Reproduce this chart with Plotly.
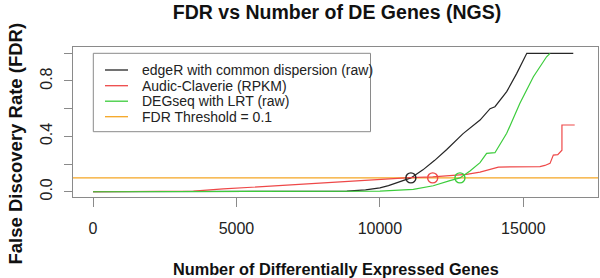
import plotly.graph_objects as go

# ---------------- data ----------------
edger_x = [0, 3000, 6000, 8000, 8850, 9500, 10000, 10300, 10600, 10850, 11080, 11500, 11900,
           12330, 12900, 13490, 13840, 14010, 14420, 14770, 15120, 16740]
edger_y = [0, 0, 0.001, 0.002, 0.005, 0.013, 0.028, 0.044, 0.065, 0.082, 0.1, 0.158, 0.225,
           0.305, 0.42, 0.518, 0.6, 0.614, 0.723, 0.855, 1.0, 1.0]

audic_x = [0, 2900, 3500, 4540, 5500, 6700, 8000, 9000, 10000, 11050, 11840, 12500, 13020,
           13490, 13800, 14130, 15580, 15750, 15930, 15990, 16045, 16200, 16277, 16345, 16345, 16790]
audic_y = [0, 0, 0.004, 0.02, 0.032, 0.046, 0.062, 0.077, 0.09, 0.102, 0.107, 0.115, 0.125,
           0.142, 0.16, 0.178, 0.182, 0.19, 0.205, 0.23, 0.265, 0.268, 0.285, 0.3, 0.482, 0.482]

degseq_x = [0, 4000, 7000, 9000, 10000, 11165, 11860, 12440, 12790, 13140, 13490, 13720, 14010,
            14420, 14880, 15350, 15810, 15930]
degseq_y = [0, 0, 0.001, 0.003, 0.005, 0.017, 0.043, 0.08, 0.1, 0.15, 0.21, 0.277, 0.282,
            0.422, 0.639, 0.831, 0.975, 1.0]

fdr_threshold = 0.1
circle_x = [11080, 11840, 12790]
circle_y = [0.1, 0.1, 0.1]

series_names = ["edgeR with common dispersion (raw)", "Audic-Claverie (RPKM)",
                "DEGseq with LRT (raw)", "FDR Threshold = 0.1"]
x_tickvals = [0, 5000, 10000, 15000]
x_ticktext = ["0", "5000", "10000", "15000"]
y_tickvals = [0, 0.2, 0.4, 0.6, 0.8, 1.0]
y_ticktext = ["0.0", "", "0.4", "", "0.8", ""]

title_text = "FDR vs Number of DE Genes (NGS)"
x_title = "Number of Differentially Expressed Genes"
y_title = "False Discovery Rate (FDR)"

# ---------------- styling ----------------
W, H = 600, 278
ML, MR, MT, MB = 73, 2, 47, 81
PW, PH = W - ML - MR, H - MT - MB
FONT = "Liberation Sans, Arial, sans-serif"
C_BLACK, C_RED, C_GREEN, C_ORANGE = "#262626", "#ee4848", "#3ccc3c", "#f5a623"
C_GRAY = "#8a8a8a"
colors = [C_BLACK, C_RED, C_GREEN, C_ORANGE]


def px(x):
    return (x - ML) / PW


def py(y):
    return (MT + PH - y) / PH


fig = go.Figure()
for xs, ys, c, n in [(edger_x, edger_y, C_BLACK, series_names[0]),
                     (audic_x, audic_y, C_RED, series_names[1]),
                     (degseq_x, degseq_y, C_GREEN, series_names[2])]:
    fig.add_trace(go.Scatter(x=xs, y=ys, mode="lines", name=n,
                             line=dict(color=c, width=1.2), showlegend=False))

fig.add_shape(type="line", xref="paper", x0=0, x1=1, yref="y", y0=fdr_threshold, y1=fdr_threshold,
              line=dict(color=C_ORANGE, width=1.3), layer="below")

fig.add_trace(go.Scatter(x=circle_x, y=circle_y, mode="markers", showlegend=False,
                         marker=dict(symbol="circle-open", size=10,
                                     color=[C_BLACK, C_RED, C_GREEN],
                                     line=dict(width=1.4, color=[C_BLACK, C_RED, C_GREEN]))))

# manual legend (R-style)
lx0, lx1, ly0, ly1 = 93.3, 370.5, 53.3, 131.7
fig.add_shape(type="rect", xref="paper", yref="paper", x0=px(lx0), x1=px(lx1), y0=py(ly1), y1=py(ly0),
              line=dict(color=C_GRAY, width=1), fillcolor="white", layer="above")
rows = [70, 85.7, 101.2, 116.7]
for i, (name, c) in enumerate(zip(series_names, colors)):
    fig.add_shape(type="line", xref="paper", yref="paper", x0=px(105), x1=px(128),
                  y0=py(rows[i]), y1=py(rows[i]), line=dict(color=c, width=1.3), layer="above")
    fig.add_annotation(text=name, xref="paper", yref="paper", x=px(140), y=py(rows[i]),
                       xanchor="left", yanchor="middle", showarrow=False,
                       font=dict(family=FONT, size=14, color="#222"))

fig.add_annotation(text="<b>%s</b>" % x_title, xref="paper", yref="paper", x=px(335.5), y=py(269),
                   xanchor="center", yanchor="middle", showarrow=False,
                   font=dict(family=FONT, size=16.3, color="#111"))
fig.add_annotation(text="<b>%s</b>" % y_title, xref="paper", yref="paper", x=px(15), y=py(143.5),
                   xanchor="center", yanchor="middle", showarrow=False, textangle=-90,
                   font=dict(family=FONT, size=18.5, color="#111"))

fig.update_layout(
    width=W, height=H, margin=dict(l=ML, r=MR, t=MT, b=MB),
    paper_bgcolor="white", plot_bgcolor="white",
    title=dict(text="<b>%s</b>" % title_text, x=337 / W, xref="container", xanchor="center",
               y=1 - 12 / H, yref="container", yanchor="middle",
               font=dict(family=FONT, size=19.5, color="#111")),
    xaxis=dict(range=[-697, 17602], tickvals=x_tickvals, ticktext=x_ticktext,
               showgrid=False, zeroline=False, showline=True, mirror=True, linecolor=C_GRAY,
               linewidth=1, ticks="outside", ticklen=9, tickcolor=C_GRAY,
               tickfont=dict(family=FONT, size=16, color="#222"), ticklabelstandoff=8),
    yaxis=dict(range=[-0.038, 1.0455], tickvals=y_tickvals, ticktext=y_ticktext,
               showgrid=False, zeroline=False, showline=True, mirror=True, linecolor=C_GRAY,
               linewidth=1, ticks="outside", ticklen=8, tickcolor=C_GRAY, tickangle=-90,
               tickfont=dict(family=FONT, size=16, color="#222"), ticklabelstandoff=6),
)

fig.write_html("out.html", config={"displayModeBar": False, "staticPlot": True},
               post_script="document.body.style.margin='0';document.body.style.overflow='hidden';")
